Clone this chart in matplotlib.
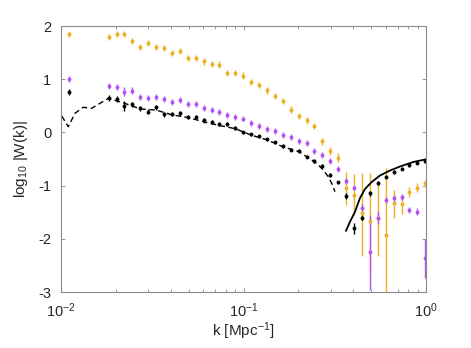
import matplotlib
matplotlib.use('Agg')
import matplotlib.pyplot as plt
from matplotlib.ticker import LogLocator, NullFormatter, FixedLocator

plt.rcParams['font.family'] = ['Liberation Sans', 'DejaVu Sans']
plt.rcParams['mathtext.fontset'] = 'custom'
plt.rcParams['mathtext.rm'] = 'Liberation Sans'
plt.rcParams['mathtext.it'] = 'Liberation Sans:italic'
plt.rcParams['axes.unicode_minus'] = False

# k bins (Mpc^-1)
k = [0.01107, 0.01823, 0.02015, 0.02227, 0.02461, 0.02720, 0.03005, 0.03321,
     0.03670, 0.04055, 0.04481, 0.04952, 0.05472, 0.06047, 0.06682, 0.07384,
     0.08160, 0.09017, 0.09964, 0.1101, 0.1217, 0.1345, 0.1486, 0.1642,
     0.1815, 0.2005, 0.2216, 0.2449, 0.2706, 0.2990, 0.3304, 0.3651,
     0.4035, 0.4459, 0.4927, 0.5445, 0.6017, 0.6649, 0.7347, 0.8119,
     0.8970, 0.9913]

# orange series
w_orange = [1.855, 1.799, 1.844, 1.844, 1.718, 1.611, 1.675, 1.600, 1.581, 1.498,
            1.530, 1.404, 1.404, 1.336, 1.286, 1.273, 1.111, 1.122, 1.066, 0.947,
            0.891, 0.791, 0.684, 0.585, 0.427, 0.314, 0.227, 0.115, -0.167, -0.344,
            -0.472, -1.038, -1.169, -1.521, -1.665, -1.600, -1.934, -1.333, -1.342,
            -1.120, -1.036, -0.957]
lo_orange = [0.06, 0.06, 0.06, 0.06, 0.06, 0.06, 0.06, 0.06, 0.06, 0.06,
             0.06, 0.06, 0.06, 0.06, 0.06, 0.06, 0.06, 0.06, 0.06, 0.06,
             0.06, 0.06, 0.06, 0.06, 0.06, 0.06, 0.06, 0.06, 0.075, 0.081,
             0.075, 0.336, 0.393, 0.797, 0.927, 0.727, 2.5, 0.28, 0.19,
             0.09, 0.085, 0.07]
hi_orange = [0.06, 0.06, 0.06, 0.06, 0.06, 0.06, 0.06, 0.06, 0.06, 0.06,
             0.06, 0.06, 0.06, 0.06, 0.06, 0.06, 0.06, 0.06, 0.06, 0.06,
             0.06, 0.06, 0.06, 0.06, 0.06, 0.06, 0.06, 0.06, 0.067, 0.076,
             0.08, 0.294, 0.387, 0.767, 0.911, 0.668, 1.274, 0.25, 0.165,
             0.09, 0.085, 0.06]

# purple series
w_purple = [0.998, 0.878, 0.859, 0.765, 0.784, 0.671, 0.641, 0.671, 0.628, 0.566,
            0.609, 0.528, 0.528, 0.453, 0.421, 0.380, 0.331, 0.284, 0.261, 0.182,
            0.126, 0.070, 0.032, -0.043, -0.087, -0.156, -0.205, -0.344, -0.419, -0.532,
            -0.688, -0.908, -1.036, -1.412, -2.242, -1.600, -1.271, -1.239, -1.209,
            -1.459, -1.487, -2.367]
lo_purple = [0.055, 0.055, 0.055, 0.08, 0.07, 0.055, 0.055, 0.055, 0.055, 0.055,
             0.055, 0.055, 0.055, 0.055, 0.055, 0.055, 0.055, 0.055, 0.055, 0.055,
             0.055, 0.055, 0.055, 0.055, 0.055, 0.055, 0.055, 0.055, 0.055, 0.055,
             0.055, 0.055, 0.055, 0.066, 0.72, 0.13, 0.055, 0.055, 0.055,
             0.06, 0.06, 0.37]
hi_purple = [0.055, 0.055, 0.055, 0.08, 0.07, 0.055, 0.055, 0.055, 0.055, 0.055,
             0.055, 0.055, 0.055, 0.055, 0.055, 0.055, 0.055, 0.055, 0.055, 0.055,
             0.055, 0.055, 0.055, 0.055, 0.055, 0.055, 0.055, 0.055, 0.055, 0.055,
             0.055, 0.055, 0.055, 0.066, 0.689, 0.13, 0.055, 0.055, 0.055,
             0.06, 0.06, 0.37]

# black series
w_black = [0.765, 0.647, 0.628, 0.496, 0.528, 0.453, 0.389, 0.472, 0.340, 0.346,
           0.359, 0.295, 0.295, 0.224, 0.192, 0.154, 0.154, 0.086, 0.002, -0.036,
           -0.073, -0.130, -0.186, -0.256, -0.325, -0.344, -0.457, -0.538, -0.632, -0.801,
           -0.938, -1.201, -1.806, -1.602, -1.143, -0.951, -0.833, -0.744, -0.679,
           -0.613, -0.570, -0.538]
lo_black = [0.055, 0.05, 0.05, 0.085, 0.05, 0.05, 0.05, 0.05, 0.05, 0.045,
            0.045, 0.04, 0.04, 0.04, 0.035, 0.035, 0.035, 0.035, 0.03, 0.03,
            0.03, 0.03, 0.03, 0.03, 0.03, 0.03, 0.03, 0.03, 0.03, 0.03,
            0.03, 0.055, 0.113, 0.05, 0.05, 0.03, 0.03, 0.03, 0.03,
            0.03, 0.03, 0.03]
hi_black = [0.055, 0.05, 0.05, 0.085, 0.05, 0.05, 0.05, 0.05, 0.05, 0.045,
            0.045, 0.04, 0.04, 0.04, 0.035, 0.035, 0.035, 0.035, 0.03, 0.03,
            0.03, 0.03, 0.03, 0.03, 0.03, 0.03, 0.03, 0.03, 0.03, 0.03,
            0.03, 0.055, 0.098, 0.05, 0.05, 0.03, 0.03, 0.03, 0.03,
            0.03, 0.03, 0.03]

# model curves
k_dash = [0.01009, 0.01096, 0.01193, 0.01325, 0.01473, 0.01636, 0.01816, 0.0222,
          0.0272, 0.0332, 0.0405, 0.0495, 0.0605, 0.0738, 0.0902, 0.110, 0.1345,
          0.1642, 0.2005, 0.2220, 0.2518, 0.2737, 0.2915, 0.3043, 0.3172]
w_dash = [0.308, 0.107, 0.359, 0.472, 0.453, 0.547, 0.641, 0.55,
          0.44, 0.42, 0.33, 0.28, 0.20, 0.13, 0.07, -0.05, -0.14,
          -0.27, -0.36, -0.457, -0.581, -0.707, -0.833, -0.957, -1.115]

k_solid = [0.3644, 0.3834, 0.4083, 0.4349, 0.4631, 0.5041, 0.5597, 0.6350,
           0.7205, 0.8519, 1.0]
w_solid = [-1.848, -1.679, -1.491, -1.233, -1.064, -0.932, -0.810, -0.716,
           -0.641, -0.556, -0.506]

c_orange = '#EDB120'
c_purple = '#B650F5'

fig = plt.figure(figsize=(4.71, 3.48), dpi=100)
ax = fig.add_axes([61/471, 1-292/348, 365/471, 266/348])

def _eb(w, lo, hi, col):
	ax.errorbar(k, w, yerr=[lo, hi], fmt='o', color=col, ms=2.8,
		elinewidth=1.0, capsize=4.0, capthick=1.5, mew=0)

_eb(w_orange, lo_orange, hi_orange, c_orange)
_eb(w_purple, lo_purple, hi_purple, c_purple)
_eb(w_black, lo_black, hi_black, 'k')

ax.plot(k_dash, w_dash, '--', color='k', lw=1.0, dashes=(4, 2.5))
ax.plot(k_solid, w_solid, '-', color='k', lw=1.3)

ax.set_xscale('log')
ax.set_xlim(0.01, 1)
ax.set_ylim(-3, 2)
ax.yaxis.set_major_locator(FixedLocator([-3, -2, -1, 0, 1, 2]))
ax.set_yticklabels(['-3', '-2', '-1', '0', '1', '2'])
ax.xaxis.set_minor_locator(LogLocator(base=10, subs=range(2, 10)))
ax.xaxis.set_minor_formatter(NullFormatter())

for s in ax.spines.values():
	s.set_color('#8a8a8a')
	s.set_linewidth(0.8)
ax.tick_params(which='both', direction='in', top=True, right=True,
	color='#8a8a8a', labelsize=10.5, labelcolor='#262626')
ax.tick_params(which='major', length=3, width=0.6)
ax.tick_params(which='minor', length=2, width=0.6)
ax.tick_params(axis='y', pad=7)
ax.tick_params(axis='x', pad=7)

ax.set_xlabel(r'k [Mpc$^{-1}$]', fontsize=11, color='#262626')
ax.xaxis.set_label_coords(0.5, -0.108)
ax.set_ylabel(r'log$_{10}$ |W(k)|', fontsize=11, color='#262626')
ax.yaxis.set_label_coords(-0.085, 0.5)

fig.savefig('out.png', dpi=100)
